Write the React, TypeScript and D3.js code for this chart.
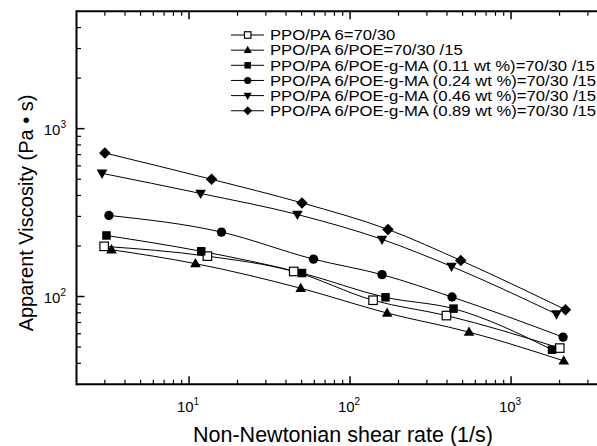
import React from "react";
import * as d3 from "d3";

const seriesLabels = [
  "PPO/PA 6=70/30",
  "PPO/PA 6/POE=70/30 /15",
  "PPO/PA 6/POE-g-MA (0.11 wt %)=70/30 /15",
  "PPO/PA 6/POE-g-MA (0.24 wt %)=70/30 /15",
  "PPO/PA 6/POE-g-MA (0.46 wt %)=70/30 /15",
  "PPO/PA 6/POE-g-MA (0.89 wt %)=70/30 /15",
];
const seriesSymbols = ["openSquare", "triUp", "square", "circle", "triDown", "diamond"];

const rateOpenSquare = [2.97, 13.0, 44.7, 139, 397, 2007];
const viscOpenSquare = [199, 174, 141, 95, 77, 49.3];
const rateTriUp = [3.3, 10.96, 49.4, 170, 548, 2124];
const viscTriUp = [190, 157, 112, 79.7, 61.4, 41.4];
const rateSquare = [3.07, 11.9, 50.3, 166, 439, 1797];
const viscSquare = [231, 186, 138, 98.9, 84.7, 48.2];
const rateCircle = [3.18, 15.9, 59.3, 158, 430, 2104];
const viscCircle = [304, 242, 167, 135, 99.3, 57.3];
const rateTriDown = [2.88, 11.8, 47.1, 158, 427, 1914];
const viscTriDown = [542, 411, 308, 219, 151, 78.6];
const rateDiamond = [3.0, 13.8, 50.3, 172, 487, 2178];
const viscDiamond = [716, 499, 361, 251, 164, 83.5];

const xMajor = [10, 100, 1000];
const xMajorExp = ["1", "2", "3"];
const yMajor = [100, 1000];
const yMajorExp = ["2", "3"];

const allRates = [rateOpenSquare, rateTriUp, rateSquare, rateCircle, rateTriDown, rateDiamond];
const allVisc = [viscOpenSquare, viscTriUp, viscSquare, viscCircle, viscTriDown, viscDiamond];

const FONT = "'Liberation Sans', Arial, Helvetica, sans-serif";

function marker(kind: string, cx: number, cy: number, s: number, key: string) {
  const h = s / 2;
  switch (kind) {
    case "openSquare":
      return <rect key={key} x={cx - h} y={cy - h} width={s} height={s} fill="white" stroke="black" strokeWidth={1.2} />;
    case "square":
      return <rect key={key} x={cx - h} y={cy - h} width={s} height={s} fill="black" />;
    case "circle":
      return <circle key={key} cx={cx} cy={cy} r={h * 1.1} fill="black" />;
    case "triUp": {
      const w = s * 1.25;
      const ht = s * 1.1;
      return <path key={key} d={`M${cx},${cy - ht * 0.6}L${cx + w / 2},${cy + ht * 0.4}L${cx - w / 2},${cy + ht * 0.4}Z`} fill="black" />;
    }
    case "triDown": {
      const w = s * 1.25;
      const ht = s * 1.1;
      return <path key={key} d={`M${cx},${cy + ht * 0.6}L${cx + w / 2},${cy - ht * 0.4}L${cx - w / 2},${cy - ht * 0.4}Z`} fill="black" />;
    }
    case "diamond": {
      const r = s * 0.68;
      return <path key={key} d={`M${cx},${cy - r}L${cx + r},${cy}L${cx},${cy + r}L${cx - r},${cy}Z`} fill="black" />;
    }
  }
  return null;
}

export default function App() {
  const W = 597;
  const H = 446;
  const left = 76.5;
  const top = 11.3;
  const bottom = 384.3;
  const right = 623.6;
  const x = d3.scaleLog().domain([2, 5000]).range([left, right]);
  const y = d3.scaleLog().domain([30, 5000]).range([bottom, top]);

  const xMinor: number[] = [];
  for (const dec of [1, 10, 100, 1000]) for (let k = 2; k <= 9; k++) { const v = k * dec; if (v > 2 && v < 5000 && v !== 10 && v !== 100 && v !== 1000) xMinor.push(v); }
  const yMinor: number[] = [];
  for (const dec of [10, 100, 1000]) for (let k = 2; k <= 9; k++) { const v = k * dec; if (v > 30 && v < 5000 && v !== 100 && v !== 1000) yMinor.push(v); }

  const line = d3.line<[number, number]>().x((d) => x(d[0])).y((d) => y(d[1])).curve(d3.curveMonotoneX);

  const legX0 = 231;
  const legX1 = 264;
  const legSym = 247.7;
  const legText = 270;
  const legY0 = 35;
  const legDy = 15.15;

  return (
    <svg width={W} height={H} style={{ position: "absolute", left: 0, top: 0, background: "white" }} fontFamily={FONT}>
      <rect x={0} y={0} width={W} height={H} fill="white" />
      {allRates.map((rates, i) => (
        <path key={"l" + i} d={line(rates.map((r, j) => [r, allVisc[i][j]]) as [number, number][]) || ""} fill="none" stroke="black" strokeWidth={1} />
      ))}
      {allRates.map((rates, i) => rates.map((r, j) => marker(seriesSymbols[i], x(r), y(allVisc[i][j]), 8.5, `m${i}-${j}`)))}

      <line x1={left} x2={W + 5} y1={top} y2={top} stroke="black" strokeWidth={2} />
      <line x1={left} x2={W + 5} y1={bottom} y2={bottom} stroke="black" strokeWidth={2} />
      <line x1={left} x2={left} y1={top - 1} y2={bottom + 1} stroke="black" strokeWidth={2} />
      {xMajor.map((v) => (
        <g key={"xM" + v}>
          <line x1={x(v)} x2={x(v)} y1={bottom} y2={bottom - 8} stroke="black" strokeWidth={1.5} />
          <line x1={x(v)} x2={x(v)} y1={top} y2={top + 8} stroke="black" strokeWidth={1.5} />
        </g>
      ))}
      {xMinor.map((v) => (
        <g key={"xm" + v}>
          <line x1={x(v)} x2={x(v)} y1={bottom} y2={bottom - 4.5} stroke="black" strokeWidth={1.2} />
          <line x1={x(v)} x2={x(v)} y1={top} y2={top + 4.5} stroke="black" strokeWidth={1.2} />
        </g>
      ))}
      {yMajor.map((v) => (
        <line key={"yM" + v} x1={left} x2={left + 8} y1={y(v)} y2={y(v)} stroke="black" strokeWidth={1.5} />
      ))}
      {yMinor.map((v) => (
        <line key={"ym" + v} x1={left} x2={left + 4.5} y1={y(v)} y2={y(v)} stroke="black" strokeWidth={1.2} />
      ))}
      {xMajor.map((v, i) => (
        <text key={"xl" + v} x={x(v) - 1} y={412} textAnchor="middle" fontSize={15} fill="black">
          10<tspan dy={-7} fontSize={10}>{xMajorExp[i]}</tspan>
        </text>
      ))}
      {yMajor.map((v, i) => (
        <text key={"yl" + v} x={66} y={y(v) + 6} textAnchor="end" fontSize={15} fill="black">
          10<tspan dy={-7} fontSize={10}>{yMajorExp[i]}</tspan>
        </text>
      ))}
      <text x={343} y={442} textAnchor="middle" fontSize={21.5} fill="black">Non-Newtonian shear rate (1/s)</text>
      <text transform={`translate(33,213) rotate(-90)`} textAnchor="middle" fontSize={20} fill="black">Apparent Viscosity (Pa • s)</text>

      {seriesLabels.map((lab, i) => {
        const cy = legY0 + i * legDy;
        return (
          <g key={"leg" + i}>
            <line x1={legX0} x2={legX1} y1={cy} y2={cy} stroke="black" strokeWidth={1} />
            {marker(seriesSymbols[i], legSym, cy, 6.5, "lm" + i)}
            <text transform={`translate(${legText},${cy + 5.3}) scale(1.15,1)`} fontSize={14.5} fill="black">{lab}</text>
          </g>
        );
      })}
    </svg>
  );
}
